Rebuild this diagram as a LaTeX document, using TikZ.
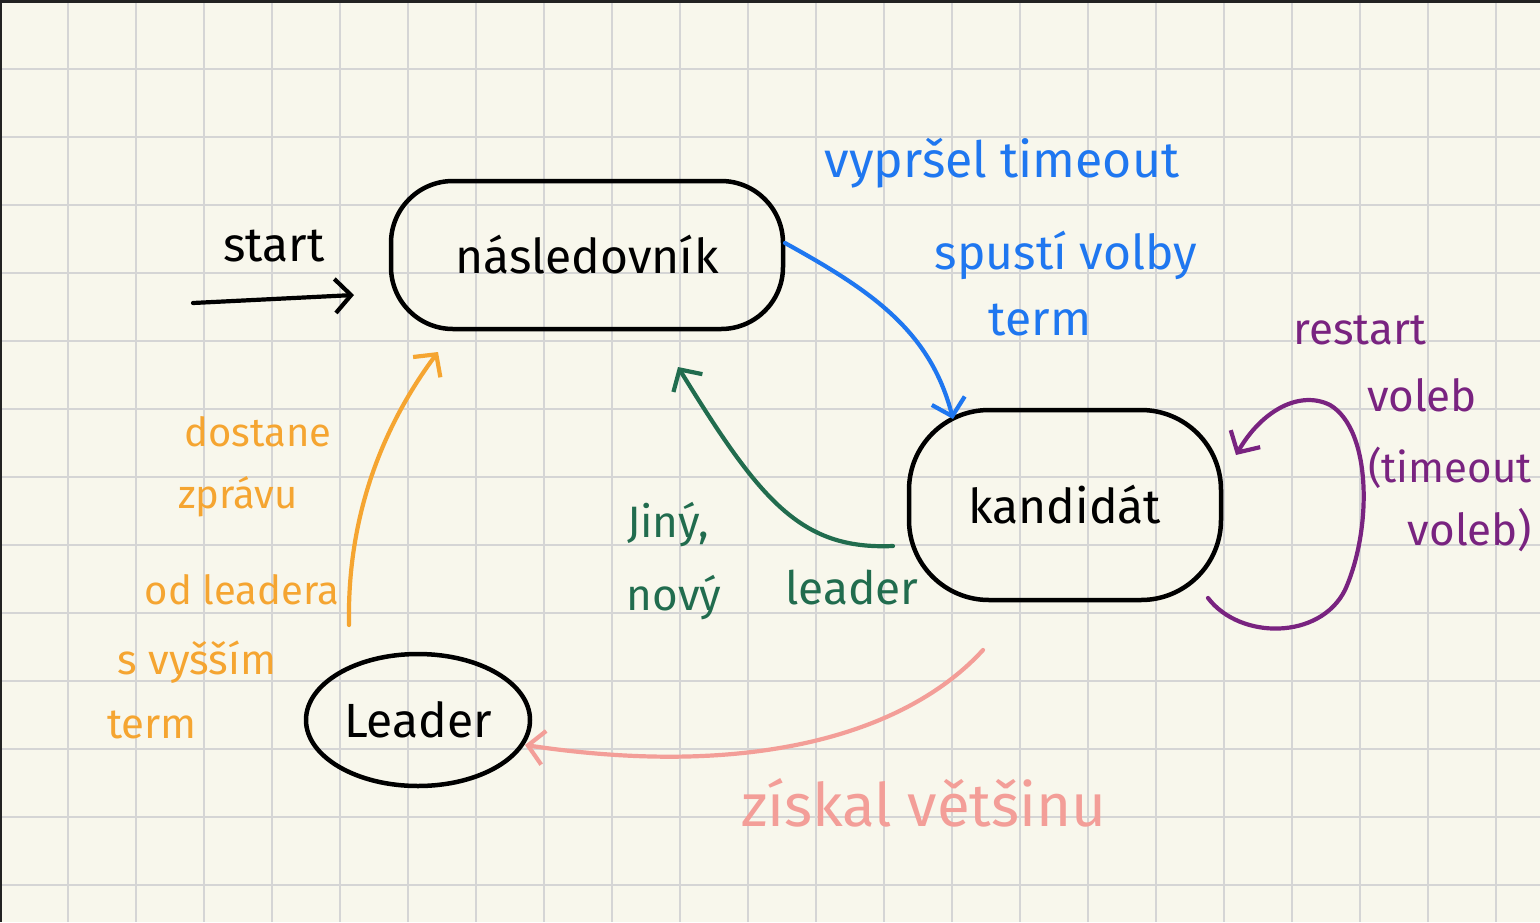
\documentclass[tikz,border=0pt]{standalone}
\usepackage{fontspec}
\setmainfont{Fira Sans}
\usetikzlibrary{arrows.meta,shapes.geometric}
\definecolor{paper}{HTML}{F8F7EC}
\definecolor{gridc}{HTML}{D5D5D5}
\definecolor{cblue}{HTML}{1F77F0}
\definecolor{cgreen}{HTML}{216C4E}
\definecolor{corange}{HTML}{F5A531}
\definecolor{cpink}{HTML}{F39E98}
\definecolor{cpurple}{HTML}{792380}
\definecolor{edge}{HTML}{222222}
\begin{document}
\begin{tikzpicture}[x=1pt,y=-1pt,
  gridline/.style={draw=gridc,line width=2pt},
  state/.style={draw=black,line width=4.5pt,inner sep=0pt,font=\fontsize{48}{54}\selectfont},
  hand/.style={inner sep=0pt,font=\fontsize{#1}{#1}\selectfont},
  hand/.default=44,
  conn/.style={line width=4.2pt,line cap=round,line join=round,
    -{Straight Barb[length=16pt,width=34pt,line width=4.2pt]}},
  bluec/.style={conn,draw=cblue},
  greenc/.style={conn,draw=cgreen},
  orangec/.style={conn,draw=corange},
  pinkc/.style={conn,draw=cpink},
  purplec/.style={conn,draw=cpurple},
  startc/.style={conn,draw=black}
]
% paper and grid
\fill[paper] (0,0) rectangle (1540,922);
\useasboundingbox (0,0) rectangle (1540,922);
\foreach \i in {1,...,22} \draw[gridline] (68*\i,0) -- (68*\i,922);
\foreach \j in {1,...,13} \draw[gridline] (0,68*\j+1) -- (1540,68*\j+1);
\fill[edge] (0,0) rectangle (1540,2.5);
\fill[edge] (0,0) rectangle (1.5,922);

% states
\node[state,rectangle,rounded corners=62pt,minimum width=392pt,minimum height=148pt] (nasl) at (587,255) {následovník};
\node[state,rectangle,rounded corners=80pt,minimum width=312pt,minimum height=190pt] (kand) at (1065,505) {kandidát};
\node[state,ellipse,minimum width=224pt,minimum height=132pt] (lead) at (418,720) {Leader};

% start arrow
\node[hand=48] (startlbl) at (274,246) {start};
\coordinate (s0) at (193,303);
\draw[startc] (s0) -- ([shift={(-233,40)}]nasl.center);

% blue: timeout
\draw[bluec] ([shift={(198,-12)}]nasl.center) .. controls (870,290) and (930,330) .. ([shift={(-112,-86)}]kand.center);
\node[hand=50,text=cblue] (b1) at (1002,163) {vypršel timeout};
\node[hand=48,text=cblue] (b2) at (1066,255) {spustí volby};
\node[hand=48,text=cblue] (b3) at (1040,320) {term};

% green: new leader
\draw[greenc] ([shift={(-172,41)}]kand.center) .. controls (800,550) and (760,500) .. ([shift={(91,112)}]nasl.center);
\node[hand=44,text=cgreen] (g1) at (668,525) {Jiný,};
\node[hand=44,text=cgreen] (g2) at (674,598) {nový};
\node[hand=46,text=cgreen] (g3) at (852,588) {leader};

% orange: message from leader with higher term
\draw[orangec] ([shift={(-69,-95)}]lead.center) .. controls (347,520) and (380,430) .. ([shift={(-149,97)}]nasl.center);
\node[hand=40,text=corange] (o1) at (258,432) {dostane};
\node[hand=40,text=corange] (o2) at (238,497) {zprávu};
\node[hand=40,text=corange] (o3) at (242,590) {od leadera};
\node[hand=42,text=corange] (o4) at (197,662) {s vyšším};
\node[hand=42,text=corange] (o5) at (152,725) {term};

% pink: majority
\draw[pinkc] ([shift={(-82,145)}]kand.center) .. controls (910,730) and (760,780) .. ([shift={(107,25)}]lead.center);
\node[hand=60,text=cpink] (p1) at (924,803) {získal většinu};

% purple: restart election (self loop)
\draw[purplec] ([shift={(143,93)}]kand.center) .. controls (1240,640) and (1320,640) .. (1345,590)
  .. controls (1372,530) and (1372,430) .. (1330,405)
  .. controls (1300,390) and (1262,410) .. ([shift={(171,-50)}]kand.center);
\node[hand=44,text=cpurple] (u1) at (1360,330) {restart};
\node[hand=44,text=cpurple] (u2) at (1422,395) {voleb};
\node[hand=42,text=cpurple] (u3) at (1450,468) {(timeout};
\node[hand=44,text=cpurple] (u4) at (1470,530) {voleb)};
\end{tikzpicture}
\end{document}
